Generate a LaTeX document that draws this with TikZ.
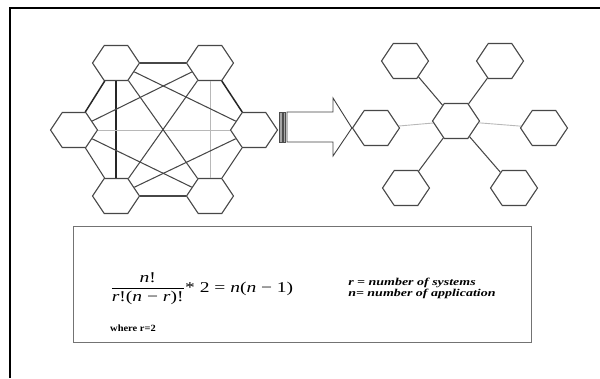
\documentclass[tikz,border=0pt]{standalone}
\usepackage{fontspec}
\setmainfont{Liberation Serif}
\usepackage{amsmath}
\usetikzlibrary{shapes.geometric}
\tikzset{
  hex/.style={regular polygon, regular polygon sides=6, minimum size=47pt,
    inner sep=0pt, yscale=0.86, draw=black!72, line width=1.1pt, fill=white},
  dk/.style={draw=black!85, line width=1.5pt},
  md/.style={draw=black!72, line width=1.05pt},
  lt/.style={draw=black!28, line width=0.9pt},
  frame/.style={draw=black, line width=2.2pt},
  formbox/.style={draw=black!55, line width=0.9pt},
  arrowline/.style={draw=black!75, line width=0.9pt},
  stripe/.style={draw=black!70, fill=black!35, line width=0.5pt},
  legend/.style={font=\fontsize{10.5}{12}\selectfont\bfseries\itshape, inner sep=0pt, anchor=base west, xscale=1.33}
}
\begin{document}
\begin{tikzpicture}[x=1pt,y=-1pt]
\useasboundingbox (0,0) rectangle (600,378);
% outer frame (top and left)
\draw[frame] (10,378) -- (10,8) -- (600,8);

% left complete graph
\node[hex] (TL) at (116,63) {};
\node[hex] (TR) at (210,63) {};
\node[hex] (L)  at (74,130) {};
\node[hex] (R)  at (254,130) {};
\node[hex] (BL) at (116,196) {};
\node[hex] (BR) at (210,196) {};

\draw[md] (TL) -- (TR);
\draw[md] (BL) -- (BR);
\draw[dk] (TL) -- (L);
\draw[dk] (TR) -- (R);
\draw[md] (L) -- (BL);
\draw[md] (R) -- (BR);
\draw[dk] (TL) -- (BL);
\draw[lt] (TR) -- (BR);
\draw[lt] (L) -- (R);
\draw[md] (TL) -- (R);
\draw[md] (TL) -- (BR);
\draw[md] (TR) -- (L);
\draw[md] (TR) -- (BL);
\draw[md] (L) -- (BR);
\draw[md] (R) -- (BL);

% star graph
\node[hex] (A)   at (376,128) {};
\node[hex] (C)   at (456,121) {};
\node[hex] (SR)  at (544,128) {};
\node[hex] (STL) at (405,61) {};
\node[hex] (STR) at (500,61) {};
\node[hex] (SBL) at (406,188) {};
\node[hex] (SBR) at (514,188) {};

\draw[lt] (C) -- (A);
\draw[lt] (C) -- (SR);
\draw[md] (C) -- (STL);
\draw[md] (C) -- (STR);
\draw[md] (C) -- (SBL);
\draw[md] (C) -- (SBR);

% striped block arrow
\draw[stripe] (279.5,112) rectangle (282,142);
\draw[stripe] (283,112) rectangle (285.5,142);
\draw[arrowline] (287,112) -- (333,112) -- (333,98) -- (A.west) -- (333,156) -- (333,142) -- (287,142) -- cycle;

% formula box
\node[formbox, minimum width=458pt, minimum height=116pt, inner sep=0pt] (box) at (302,284) {};
\node[anchor=base west, inner sep=0pt, xscale=1.3, font=\fontsize{15}{17}\selectfont] (frm) at (110,292)
  {$\dfrac{\mbox{\textit{n}!}}{\mbox{\textit{r}!(\textit{n} − \textit{r})!}}\mbox{* 2 = \textit{n}(\textit{n} − 1)}$};
\node[anchor=base west, inner sep=0pt, xscale=1.1, font=\fontsize{9.5}{11}\selectfont\bfseries] (wh) at (110,331) {where r=2};
\node[legend] (t1) at (348,285) {r = number of systems};
\node[legend] (t2) at (348,296) {n= number of application};
\end{tikzpicture}
\end{document}
